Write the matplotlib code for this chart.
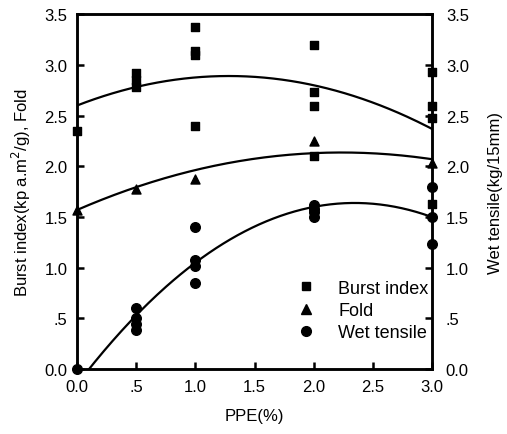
import numpy as np
import matplotlib.pyplot as plt
from matplotlib.lines import Line2D

plt.rcParams['font.family'] = ['Liberation Sans', 'DejaVu Sans']

# measured points
burst_x = [0.0, 0.5, 0.5, 0.5, 1.0, 1.0, 1.0, 1.0, 2.0, 2.0, 2.0, 2.0, 3.0, 3.0, 3.0, 3.0]
burst_y = [2.35, 2.78, 2.85, 2.92, 3.37, 3.14, 3.10, 2.40, 3.20, 2.73, 2.60, 2.10, 2.93, 2.60, 2.48, 1.63]

fold_x = [0.0, 0.5, 1.0, 2.0, 3.0]
fold_y = [1.57, 1.78, 1.88, 2.25, 2.03]

wet_x = [0.0, 0.5, 0.5, 0.5, 0.5, 1.0, 1.0, 1.0, 1.0, 2.0, 2.0, 2.0, 2.0, 3.0, 3.0, 3.0]
wet_y = [0.0, 0.60, 0.50, 0.45, 0.39, 1.40, 1.08, 1.02, 0.85, 1.62, 1.58, 1.55, 1.50, 1.80, 1.50, 1.23]

# fitted quadratic curves (a + b x + c x^2)
burst_fit = [2.60, 0.4533, -0.1767]
fold_fit = [1.57, 0.5067, -0.1133]
wet_fit = [-0.15, 1.525, -0.325]

ticks = [0.0, 0.5, 1.0, 1.5, 2.0, 2.5, 3.0, 3.5]
tick_labels = ['0.0', '.5', '1.0', '1.5', '2.0', '2.5', '3.0', '3.5']
xticks = [0.0, 0.5, 1.0, 1.5, 2.0, 2.5, 3.0]
xtick_labels = ['0.0', '.5', '1.0', '1.5', '2.0', '2.5', '3.0']

fig = plt.figure(figsize=(5.07, 4.35), dpi=100)
ax = fig.add_axes([0.152, 0.149, 0.700, 0.816])

xs = np.linspace(0, 3, 200)
for coef in (burst_fit, fold_fit, wet_fit):
    ax.plot(xs, coef[0] + coef[1] * xs + coef[2] * xs ** 2, color='black', lw=1.6)

ax.scatter(burst_x, burst_y, marker='s', s=36, color='black', clip_on=False, zorder=3)
ax.scatter(fold_x, fold_y, marker='^', s=42, color='black', clip_on=False, zorder=3)
ax.scatter(wet_x, wet_y, marker='o', s=48, color='black', clip_on=False, zorder=3)

ax.set_xlim(0, 3)
ax.set_ylim(0, 3.5)
ax.set_xticks(xticks)
ax.set_xticklabels(xtick_labels)
ax.set_yticks(ticks)
ax.set_yticklabels(tick_labels)
ax.tick_params(direction='in', length=5, width=1.8, labelsize=12, pad=7)
for s in ax.spines.values():
    s.set_linewidth(1.8)

ax2 = ax.twinx()
ax2.set_ylim(0, 3.5)
ax2.set_yticks(ticks)
ax2.set_yticklabels(tick_labels)
ax2.tick_params(direction='in', length=5, width=1.8, labelsize=12, pad=10)
for s in ax2.spines.values():
    s.set_linewidth(1.8)

ax.set_xlabel('PPE(%)', fontsize=12, labelpad=10)
ax.set_ylabel('Burst index(kp a.m$^2$/g), Fold', fontsize=12, labelpad=8)
ax2.set_ylabel('Wet tensile(kg/15mm)', fontsize=12, labelpad=14)

handles = [Line2D([], [], ls='', marker='s', ms=6, color='black'),
           Line2D([], [], ls='', marker='^', ms=7, color='black'),
           Line2D([], [], ls='', marker='o', ms=7, color='black')]
ax.legend(handles, ['Burst index', 'Fold', 'Wet tensile'], loc='lower right',
          bbox_to_anchor=(1.01, 0.058), frameon=False, fontsize=13,
          handlelength=1.4, handletextpad=1.1, labelspacing=0.3, borderaxespad=0.0)

fig.savefig('out.png', dpi=100)
